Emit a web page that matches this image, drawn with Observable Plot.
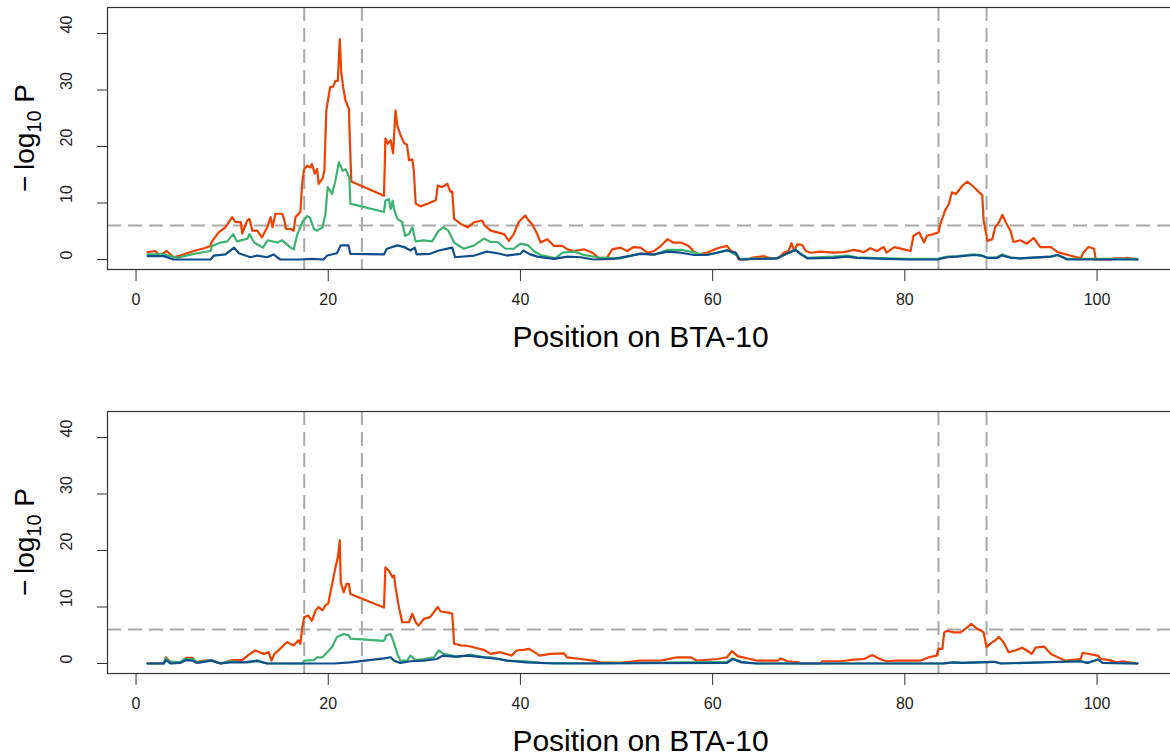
<!DOCTYPE html>
<html><head><meta charset="utf-8">
<script src="https://cdn.jsdelivr.net/npm/d3@7"></script>
<script src="https://cdn.jsdelivr.net/npm/@observablehq/plot@0.6"></script>
<style>
html,body{margin:0;padding:0;overflow:hidden;background:#fff;width:1170px;height:755px}
.panel{width:1170px;height:404px;overflow:hidden}
</style></head><body>
<div id="p1" class="panel"></div><div id="p2" class="panel"></div>
<script>
const xTicks = [0, 20, 40, 60, 80, 100];
const yTicks = [0, 10, 20, 30, 40];
const regionBounds = [17.5, 23.5, 83.5, 88.5];
const threshold = 6;
const xTitle = "Position on BTA-10";
const seriesNames = ["orange", "green", "blue"];
const seriesColors = ["#EE4000", "#3CB371", "#104E8B"];

// Panel 1 (top): [position (Mb), -log10 P]
const topOrange = [[1.2,1.3],[2.0,1.5],[2.5,0.7],[3.2,1.5],[3.9,0.4],[4.6,0.7],[6.0,1.5],[7.1,2.0],[7.75,2.4],[7.9,3.2],[8.6,4.8],[9.3,5.7],[10.0,7.5],[10.35,6.6],[10.9,6.6],[11.05,4.6],[11.57,6.9],[11.8,7.2],[12.1,5.1],[12.6,5.1],[13.1,3.9],[13.65,5.7],[14.0,7.5],[14.2,5.7],[14.5,8.1],[15.2,8.1],[15.4,7.2],[15.6,5.4],[16.1,5.4],[16.4,5.1],[16.6,7.5],[17.1,8.4],[17.3,13.7],[17.5,16.0],[17.8,16.6],[18.15,16.3],[18.3,16.9],[18.6,15.2],[18.85,16.0],[19.0,13.4],[19.4,14.3],[19.6,15.7],[19.8,26.4],[20.2,30.5],[20.5,30.6],[20.75,31.6],[21.0,31.6],[21.2,39.0],[21.35,33.2],[21.55,30.5],[21.8,28.1],[22.15,26.7],[22.25,21.1],[22.4,13.8],[25.8,11.3],[25.95,21.4],[26.2,20.5],[26.5,21.1],[26.75,18.8],[27.0,26.4],[27.2,23.6],[27.5,22.1],[27.9,20.6],[28.2,20.3],[28.4,17.6],[28.75,17.7],[28.9,15.8],[29.1,9.9],[29.6,9.4],[30.5,10.0],[31.2,10.5],[31.4,13.1],[31.85,12.8],[32.4,13.4],[32.7,12.0],[32.9,12.0],[33.1,7.2],[33.8,6.3],[34.5,5.7],[35.2,6.6],[36.0,6.9],[36.3,6.0],[36.9,5.1],[37.6,4.8],[38.3,4.5],[38.8,3.3],[39.3,4.5],[39.8,6.6],[40.5,7.8],[40.85,6.9],[41.2,6.3],[41.75,4.5],[42.1,3.0],[42.8,3.6],[43.5,2.4],[44.35,2.4],[44.9,1.8],[45.6,1.5],[46.6,1.8],[47.5,1.2],[48.2,0.2],[49.0,0.3],[49.55,1.8],[50.4,2.1],[51.1,1.5],[51.8,2.2],[52.5,2.1],[53.2,1.2],[53.9,1.5],[54.6,2.4],[55.3,3.6],[55.9,3.0],[56.7,3.0],[57.5,2.4],[58.0,1.5],[58.5,0.9],[59.4,1.2],[60.5,2.0],[61.5,2.4],[61.9,1.5],[62.4,1.2],[62.7,0],[63.6,0],[64.1,0.3],[65.3,0.6],[66.0,0.2],[66.9,0.3],[67.4,1.2],[67.9,1.5],[68.2,2.9],[68.5,1.5],[68.8,2.7],[69.3,2.6],[69.7,1.5],[70.2,1.2],[71.2,1.4],[72.6,1.2],[73.65,1.3],[74.7,1.7],[75.75,1.3],[76.4,2.0],[77.1,1.5],[77.8,2.2],[78.1,1.2],[78.9,2.2],[79.9,1.8],[80.6,1.5],[80.9,4.2],[81.5,4.8],[82.0,3.0],[82.3,4.2],[83.0,4.5],[83.5,4.8],[83.7,6.3],[84.2,8.7],[84.6,9.9],[84.9,11.9],[85.3,11.6],[85.6,12.2],[86.0,13.1],[86.5,13.8],[87.0,13.1],[88.05,11.4],[88.2,6.9],[88.6,3.3],[89.1,3.6],[89.4,5.7],[89.8,6.6],[90.15,7.9],[90.5,6.6],[91.0,5.1],[91.3,3.1],[92.0,3.4],[92.7,2.8],[93.4,3.8],[94.1,2.2],[95.2,2.2],[95.9,1.3],[97.2,0.7],[98.3,0.2],[98.6,1.3],[99.1,2.2],[99.7,1.9],[99.85,0],[101.4,0],[101.8,0.2],[102.8,0.2],[103.2,0.3],[104.2,0]];
const topGreen = [[1.2,0.9],[2.9,0.9],[4.3,0.3],[6.0,1.0],[7.75,1.5],[7.9,2.4],[8.8,3.0],[9.5,3.2],[10.1,4.5],[10.5,3.2],[11.6,3.7],[11.8,4.5],[12.3,3.0],[13.2,2.1],[13.7,3.4],[14.7,3.0],[15.2,3.4],[16.1,2.1],[16.4,1.8],[16.8,4.5],[17.3,6.6],[17.8,7.7],[18.1,7.4],[18.5,5.4],[18.85,5.1],[19.4,5.7],[19.7,8.0],[19.95,12.8],[20.4,11.6],[20.75,14.0],[21.1,17.2],[21.5,15.7],[21.8,16.0],[22.2,14.5],[22.3,9.9],[25.8,8.4],[25.95,10.4],[26.3,10.7],[26.5,8.9],[26.7,10.4],[26.85,8.9],[27.2,7.2],[27.7,6.6],[28.0,4.2],[28.4,4.5],[28.75,5.7],[29.1,3.2],[29.95,3.4],[30.8,3.2],[31.5,5.1],[32.0,5.7],[32.5,5.1],[33.1,3.0],[34.1,1.9],[35.2,2.5],[36.2,3.7],[36.9,3.1],[37.6,3.1],[38.45,1.9],[39.3,1.9],[40.0,2.8],[40.8,2.5],[41.45,1.4],[42.1,0.8],[43.65,0.2],[44.35,1.2],[45.6,1.4],[46.6,0.8],[48.0,0.4],[50.4,0.2],[52.5,1.1],[53.9,0.8],[55.3,1.7],[56.7,1.7],[57.7,1.4],[59.1,0.8],[60.5,1.2],[61.5,1.7],[62.6,0.6],[62.8,0.1],[66.7,0.2],[67.7,1.0],[68.6,1.8],[69.1,1.1],[69.85,0.3],[72.6,0.5],[74.0,0.7],[75.0,0.4],[76.4,0.3],[80.25,0.1],[83.4,0.1],[84.4,0.5],[85.45,0.6],[87.2,0.9],[87.9,0.8],[88.6,0.3],[89.6,0.4],[90.1,0.9],[91.0,0.4],[92.0,0.2],[95.2,0.5],[95.9,0.8],[96.9,0.1],[104.2,0.1]];
const topBlue = [[1.2,0.6],[2.9,0.6],[3.9,0],[7.75,0],[8.1,0.7],[9.3,0.9],[10.2,2.1],[10.7,1.1],[11.9,0.4],[12.6,0.7],[13.65,0.4],[14.3,0.9],[15.0,0],[17.1,0],[18.15,0.1],[19.5,0],[19.9,0.7],[20.9,1.1],[21.3,2.5],[22.1,2.5],[22.3,1.0],[25.8,0.9],[26.1,1.9],[27.2,2.5],[27.9,2.2],[28.55,1.6],[29.0,2.1],[29.2,0.9],[30.6,1.0],[31.5,1.6],[32.9,2.1],[33.2,0.4],[35.2,0.7],[36.5,1.4],[37.6,1.1],[38.6,0.7],[40.0,1.0],[40.3,1.6],[41.0,0.9],[41.75,0.5],[43.5,0.1],[44.9,0.5],[46.25,0.4],[47.6,0],[49.7,0.1],[52.5,1.0],[53.9,0.9],[55.3,1.4],[56.7,1.2],[58.1,0.8],[59.4,0.8],[61.5,1.6],[62.4,1.2],[62.8,0],[66.7,0.2],[67.7,1.0],[68.6,1.7],[69.1,1.0],[69.85,0.2],[72.6,0.3],[74.0,0.5],[75.0,0.3],[76.4,0.2],[80.25,0],[83.4,0],[84.4,0.4],[85.45,0.5],[87.2,0.8],[87.9,0.7],[88.6,0.3],[89.6,0.3],[90.1,0.7],[91.0,0.3],[92.0,0.2],[95.2,0.5],[95.9,0.8],[96.9,0],[104.2,0]];

// Panel 2 (bottom)
const bottomOrange = [[1.2,0],[2.9,0],[3.1,1.1],[3.6,0.2],[4.6,0.2],[5.2,1.0],[5.9,1.0],[6.2,0.2],[7.1,0.5],[7.8,0.6],[8.8,0],[10.0,0.6],[11.05,0.6],[11.6,1.4],[12.4,2.3],[13.3,1.7],[13.8,2.0],[14.1,0.5],[14.4,1.7],[15.0,2.6],[15.7,3.8],[16.4,3.2],[16.9,4.1],[17.1,3.5],[17.3,6.4],[17.5,8.2],[17.9,8.5],[18.3,7.6],[18.7,9.4],[19.0,10.0],[19.4,9.4],[19.7,10.3],[20.0,10.6],[20.2,12.3],[20.75,17.0],[21.0,18.8],[21.2,21.8],[21.3,14.4],[21.6,12.6],[21.9,14.1],[22.15,14.1],[22.3,12.3],[25.8,9.9],[25.95,17.0],[26.3,16.4],[26.7,15.3],[26.85,15.6],[27.0,13.5],[27.35,10.0],[27.7,7.3],[28.4,7.3],[28.75,8.8],[29.1,7.3],[29.4,6.7],[29.95,7.9],[30.6,8.2],[31.4,10.0],[31.7,9.2],[32.5,9.0],[32.9,8.8],[33.1,3.5],[33.8,3.2],[34.6,3.1],[35.5,2.7],[36.2,2.4],[36.9,1.7],[37.9,2.0],[39.1,1.4],[39.6,2.3],[40.3,2.4],[40.9,2.6],[41.45,2.0],[42.0,1.4],[43.1,1.7],[44.5,1.8],[44.85,1.1],[46.25,0.8],[47.6,0.5],[48.3,0.2],[50.4,0.1],[52.5,0.5],[54.6,0.5],[56.3,1.1],[57.7,1.1],[58.4,0.5],[60.5,0.8],[61.5,1.1],[62.0,2.2],[62.6,1.3],[63.9,0.8],[64.6,0.5],[66.8,0.5],[67.1,0.9],[67.8,0.4],[69.0,0.2],[69.1,0],[71.2,0],[71.4,0.4],[73.3,0.4],[74.7,0.7],[75.75,0.8],[76.6,1.5],[77.4,0.8],[78.1,0.4],[79.1,0.5],[80.5,0.5],[81.6,0.5],[82.5,1.1],[83.3,1.4],[83.5,2.6],[83.9,2.6],[84.1,5.5],[84.4,5.8],[85.1,5.5],[85.8,5.5],[86.5,6.4],[86.9,7.0],[87.5,6.2],[88.2,5.5],[88.5,2.9],[88.9,3.5],[89.4,4.1],[89.8,4.7],[90.3,3.7],[90.8,2.0],[91.5,2.3],[92.2,2.8],[92.7,2.3],[93.2,1.7],[93.6,2.8],[94.5,3.0],[95.2,1.7],[95.8,1.2],[96.7,0.5],[98.3,0.8],[98.5,1.9],[99.4,1.6],[100.1,1.4],[100.4,0.8],[101.3,0.6],[102.0,0.2],[102.7,0.4],[104.2,0]];
const bottomGreen = [[1.2,0],[2.9,0],[3.1,1.0],[3.4,0.4],[4.6,0.2],[5.0,0.8],[5.9,0.8],[6.4,0.2],[7.8,0.6],[8.8,0],[9.8,0.4],[11.6,0.2],[12.6,0.4],[13.65,0],[17.3,0],[17.5,0.5],[18.5,0.6],[18.85,1.1],[19.4,1.1],[19.9,2.0],[20.4,2.9],[20.9,4.7],[21.6,5.2],[22.15,5.0],[22.3,4.4],[25.8,4.0],[26.05,5.0],[26.5,5.2],[26.75,4.1],[27.2,1.7],[27.5,0.5],[28.2,0.5],[28.55,1.4],[29.1,0.6],[29.95,0.8],[31.0,1.1],[31.5,2.3],[32.0,1.7],[32.9,1.4],[33.4,1.1],[34.8,1.6],[36.2,1.1],[36.9,1.1],[38.6,0.5],[40.6,0.4],[42.1,0.1],[47.6,0],[52.5,0.1],[56.3,0.2],[61.5,0.3],[62.1,0.9],[63.0,0.3],[64.6,0],[84.0,0],[85.0,0.2],[86.0,0.1],[89.3,0.3],[90.0,0],[98.3,0.4],[99.0,0.1],[100.1,0.7],[100.6,0.1],[104.2,0]];
const bottomBlue = [[1.2,0],[2.9,0],[3.1,0.6],[3.6,0],[4.6,0.1],[5.2,0.6],[5.9,0.5],[6.4,0.1],[7.8,0.5],[8.8,0],[9.8,0.2],[11.2,0.2],[12.6,0.5],[13.65,0],[20.6,0],[22.3,0.2],[25.8,0.9],[26.5,1.1],[26.85,0.5],[27.5,0.1],[28.55,0.4],[29.95,0.5],[31.3,0.8],[31.9,1.4],[33.1,1.2],[34.5,1.4],[36.2,1.1],[37.7,0.8],[38.6,0.5],[40.6,0.2],[42.1,0.1],[43.5,0],[61.5,0.1],[62.1,0.8],[63.0,0.2],[64.6,0],[84.0,0],[85.0,0.2],[86.0,0.1],[89.3,0.3],[90.0,0],[98.3,0.4],[99.0,0.1],[100.1,0.7],[100.6,0.1],[104.2,0]];

const FONT = "'Liberation Sans', Arial, Helvetica, sans-serif";

function panel(el, series) {
  const lineMarks = series.map((s, i) =>
    Plot.line(s, {x: d => d[0], y: d => d[1], stroke: seriesColors[i], strokeWidth: 2.2, strokeLinejoin: "round"}));
  const svg = Plot.plot({
    width: 1170, height: 404,
    marginLeft: 107, marginRight: -4, marginTop: 7, marginBottom: 135,
    x: {domain: [-2.97, 108.06]},
    y: {domain: [-1.77, 44.6]},
    style: {fontFamily: FONT, fontSize: "16px", color: "#222", background: "white", overflow: "hidden"},
    marks: [
      Plot.ruleX(regionBounds, {stroke: "#A9A9A9", strokeWidth: 2, strokeDasharray: "14,7"}),
      Plot.ruleY([threshold], {stroke: "#A9A9A9", strokeWidth: 2, strokeDasharray: "14,7"}),
      ...lineMarks,
      Plot.frame({stroke: "#333", strokeWidth: 1.2}),
      Plot.axisX({ticks: xTicks, tickSize: 12, tickPadding: 12, label: null, fontSize: 16, stroke: "#333"}),
      Plot.axisY({ticks: yTicks, tickSize: 10, tickFormat: () => "", label: null, stroke: "#333"}),
      Plot.text(yTicks, {y: d => d, text: d => String(d), frameAnchor: "left", dx: -41, rotate: -90, fontSize: 16, fill: "#222"})
    ]
  });
  const s = d3.select(svg);
  const yl = s.append("text")
    .attr("transform", "translate(34,138) rotate(-90)")
    .attr("text-anchor", "middle")
    .attr("fill", "#000")
    .style("font-family", FONT).style("font-size", "28px");
  yl.append("tspan").text("\u2212\u2009log");
  yl.append("tspan").attr("dy", 7).style("font-size", "20px").text("10");
  yl.append("tspan").attr("dy", -7).text(" P");
  s.append("text")
    .attr("x", 640.5).attr("y", 347)
    .attr("text-anchor", "middle")
    .attr("fill", "#000")
    .style("font-family", FONT).style("font-size", "30px")
    .text(xTitle);
  document.getElementById(el).appendChild(svg);
}

panel("p1", [topOrange, topGreen, topBlue]);
panel("p2", [bottomOrange, bottomGreen, bottomBlue]);
</script>
</body></html>
